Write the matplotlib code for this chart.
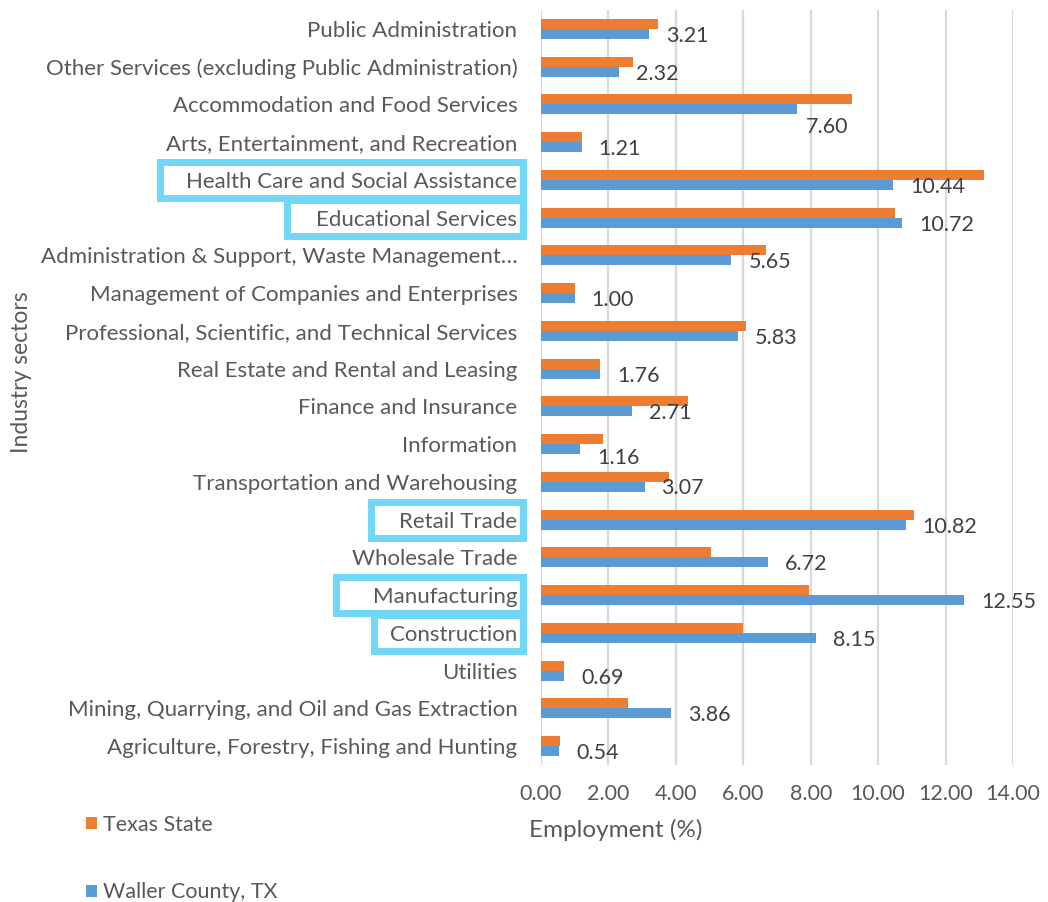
import matplotlib.pyplot as plt
from matplotlib.patches import Rectangle

plt.rcParams['font.family'] = ['Lato', 'DejaVu Sans']

#categories listed bottom to top, like the chart reads from the axis
sectors = [
    "Agriculture, Forestry, Fishing and Hunting",
    "Mining, Quarrying, and Oil and Gas Extraction",
    "Utilities",
    "Construction",
    "Manufacturing",
    "Wholesale Trade",
    "Retail Trade",
    "Transportation and Warehousing",
    "Information",
    "Finance and Insurance",
    "Real Estate and Rental and Leasing",
    "Professional, Scientific, and Technical Services",
    "Management of Companies and Enterprises",
    "Administration & Support, Waste Management\u2026",
    "Educational Services",
    "Health Care and Social Assistance",
    "Arts, Entertainment, and Recreation",
    "Accommodation and Food Services",
    "Other Services (excluding Public Administration)",
    "Public Administration",
]
texas = [0.55, 2.57, 0.67, 5.98, 7.96, 5.03, 11.07, 3.81, 1.85, 4.36,
         1.76, 6.09, 1.02, 6.66, 10.49, 13.15, 1.22, 9.23, 2.72, 3.48]
waller = [0.54, 3.86, 0.69, 8.15, 12.55, 6.72, 10.82, 3.07, 1.16, 2.71,
          1.76, 5.83, 1.00, 5.65, 10.72, 10.44, 1.21, 7.60, 2.32, 3.21]
xticks = [0, 2, 4, 6, 8, 10, 12, 14]

# labels boxed in the original, with how far the box reaches left of the text (px)
boxed = {
    "Health Care and Social Assistance": 26,
    "Educational Services": 29,
    "Retail Trade": 28,
    "Manufacturing": 37,
    "Construction": 16,
}
# a few data labels sit lower than the rest
label_nudge = {"7.60": (9, -23), "1.16": (17, -14), "3.07": (17, -6)}

orange = '#ED7D31'
blue = '#5B9BD5'
grey_txt = '#595959'

fig = plt.figure(figsize=(10.48, 9.02), dpi=100)
ax = fig.add_axes([541/1048, 1-765/902, 472/1048, 755/902])

ypos = list(range(len(sectors)))
h = 0.264
b_tx = ax.barh([y + h/2 for y in ypos], texas, height=h, color=orange,
               label='Texas State', zorder=3)
b_wc = ax.barh([y - h/2 for y in ypos], waller, height=h, color=blue,
               label='Waller County, TX', zorder=3)

for y, v in zip(ypos, waller):
    txt = "%.2f" % v
    dx, dy = label_nudge.get(txt, (17, -7))
    ax.annotate(txt, xy=(v, y), xytext=(dx, dy), textcoords='offset pixels',
                ha='left', va='center', fontsize=15.5, color='#404040')

ax.set_xlim(0, 14)
ax.set_ylim(-0.5, len(sectors) - 0.5)
ax.set_xticks(xticks)
ax.set_xticklabels(["%.2f" % t for t in xticks])
ax.set_yticks(ypos)
ax.set_yticklabels(sectors, fontsize=16)
ax.tick_params(axis='both', length=0, labelcolor=grey_txt)
ax.tick_params(axis='x', pad=14, labelsize=15.5)
ax.tick_params(axis='y', pad=17)
ax.grid(axis='x', color='#D9D9D9', linewidth=1.6, zorder=0)
for s in ax.spines.values():
    s.set_visible(False)

ax.set_xlabel("Employment (%)", fontsize=17.5, color=grey_txt)
ax.xaxis.set_label_coords(0.159, -0.072)
fig.text(22/1048, 1-372/902, "Industry sectors", rotation=90, ha='center',
         va='center', fontsize=16.5, color=grey_txt)

fig.legend(handles=[b_tx, b_wc], loc='upper left',
           bbox_to_anchor=(86/1048, 1-815/902), frameon=False,
           labelspacing=2.2, handlelength=0.5, handleheight=0.5,
           handletextpad=0.3, borderpad=0, borderaxespad=0,
           fontsize=15.5, labelcolor=grey_txt)

#draw the cyan boxes around the highlighted sector names
fig.canvas.draw()
W, H = fig.canvas.get_width_height()
for lab in ax.get_yticklabels():
    name = lab.get_text()
    if name not in boxed:
        continue
    bb = lab.get_window_extent()
    yc = ax.transData.transform((0, sectors.index(name)))[1]
    x0 = bb.x0 - boxed[name]
    x1 = bb.x1 + 6
    rect = Rectangle((x0/W, (yc - 18)/H), (x1 - x0)/W, 36/H,
                     transform=fig.transFigure, fill=False,
                     edgecolor='#70D7F7', linewidth=5, zorder=5)
    fig.patches.append(rect)

plt.savefig("out.png", dpi=100)
